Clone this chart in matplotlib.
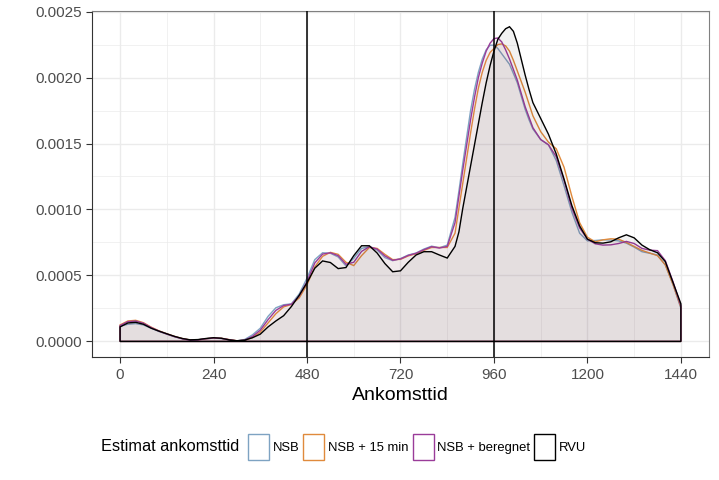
import matplotlib.pyplot as plt
from matplotlib.colors import to_rgba
from matplotlib.patches import Patch
from matplotlib.ticker import MultipleLocator

plt.rcParams['font.family'] = ['Liberation Sans', 'DejaVu Sans']

# Minutes after midnight (common grid, denser around the evening peak)
minutes = list(range(0, 841, 20)) + list(range(860, 1051, 10)) + list(range(1060, 1441, 20))

nsb = [0.000115, 0.000130, 0.000135, 0.000125, 0.000100, 0.000075, 0.000055, 0.000035,
       0.000020, 0.000010, 0.000012, 0.000020, 0.000025, 0.000022, 0.000012, 0.000004,
       0.000015, 0.000050, 0.000100, 0.000190, 0.000255, 0.000278, 0.000285, 0.000360,
       0.000480, 0.000620, 0.000672, 0.000668, 0.000640, 0.000572, 0.000630, 0.000705,
       0.000718, 0.000692, 0.000635, 0.000612, 0.000628, 0.000655, 0.000670, 0.000700,
       0.000722, 0.000710, 0.000730,
       0.00094, 0.00114, 0.00135, 0.00155, 0.00175, 0.00191, 0.00204, 0.00214, 0.00221, 0.002245,
       0.002245, 0.00222, 0.00218, 0.00214, 0.00210, 0.00203, 0.00196, 0.00186, 0.00176, 0.00168,
       0.001610, 0.001530, 0.001490, 0.001370, 0.001180, 0.000980, 0.000820, 0.000762,
       0.000765, 0.000770, 0.000768, 0.000762, 0.000745, 0.000715, 0.000680, 0.000668,
       0.000655, 0.000580, 0.000430, 0.000250]

nsb_15 = [0.000125, 0.000155, 0.000160, 0.000142, 0.000108, 0.000080, 0.000058, 0.000038,
          0.000022, 0.000011, 0.000012, 0.000020, 0.000026, 0.000024, 0.000014, 0.000005,
          0.000008, 0.000030, 0.000070, 0.000140, 0.000210, 0.000262, 0.000280, 0.000330,
          0.000430, 0.000565, 0.000645, 0.000675, 0.000660, 0.000600, 0.000575, 0.000650,
          0.000712, 0.000705, 0.000660, 0.000620, 0.000622, 0.000648, 0.000665, 0.000690,
          0.000712, 0.000712, 0.000712,
          0.00082, 0.00101, 0.00120, 0.00139, 0.00158, 0.00176, 0.00192, 0.00204, 0.00213, 0.00219,
          0.00222, 0.00225, 0.002255, 0.00224, 0.00220, 0.00213, 0.00205, 0.00197, 0.00189, 0.00180,
          0.001710, 0.001590, 0.001510, 0.001460, 0.001320, 0.001100, 0.000900, 0.000790,
          0.000755, 0.000770, 0.000778, 0.000775, 0.000750, 0.000720, 0.000690, 0.000670,
          0.000650, 0.000580, 0.000430, 0.000260]

nsb_beregnet = [0.000120, 0.000150, 0.000155, 0.000138, 0.000105, 0.000078, 0.000056, 0.000036,
                0.000020, 0.000010, 0.000012, 0.000020, 0.000026, 0.000023, 0.000013, 0.000004,
                0.000010, 0.000038, 0.000085, 0.000165, 0.000235, 0.000272, 0.000282, 0.000345,
                0.000455, 0.000595, 0.000662, 0.000672, 0.000650, 0.000585, 0.000600, 0.000682,
                0.000718, 0.000700, 0.000648, 0.000615, 0.000625, 0.000652, 0.000668, 0.000695,
                0.000718, 0.000708, 0.000720,
                0.00090, 0.00110, 0.00130, 0.00149, 0.00168, 0.00185, 0.00200, 0.00211, 0.00220, 0.00226,
                0.002295, 0.00230, 0.00227, 0.00221, 0.00214, 0.00206, 0.00198, 0.00188, 0.00178, 0.00170,
                0.001620, 0.001530, 0.001490, 0.001400, 0.001220, 0.001010, 0.000860, 0.000775,
                0.000740, 0.000730, 0.000732, 0.000742, 0.000758, 0.000742, 0.000705, 0.000692,
                0.000688, 0.000612, 0.000450, 0.000270]

rvu = [0.000110, 0.000140, 0.000145, 0.000130, 0.000100, 0.000078, 0.000058, 0.000038,
       0.000022, 0.000012, 0.000014, 0.000022, 0.000028, 0.000024, 0.000012, 0.000005,
       0.000010, 0.000028, 0.000055, 0.000110, 0.000155, 0.000195, 0.000265, 0.000350,
       0.000445, 0.000555, 0.000610, 0.000598, 0.000552, 0.000560, 0.000650, 0.000725,
       0.000725, 0.000670, 0.000590, 0.000528, 0.000535, 0.000600, 0.000655, 0.000680,
       0.000680, 0.000655, 0.000632,
       0.00072, 0.00083, 0.00101, 0.00117, 0.00133, 0.00149, 0.00165, 0.00181, 0.00196, 0.00209,
       0.00220, 0.00229, 0.002335, 0.00237, 0.002385, 0.00235, 0.00226, 0.00214, 0.00202, 0.00191,
       0.001810, 0.001690, 0.001570, 0.001420, 0.001230, 0.001030, 0.000875, 0.000775,
       0.000748, 0.000745, 0.000755, 0.000785, 0.000808, 0.000785, 0.000730, 0.000695,
       0.000672, 0.000605, 0.000445, 0.000285]

series = {
    'NSB': nsb,
    'NSB + 15 min': nsb_15,
    'NSB + beregnet': nsb_beregnet,
    'RVU': rvu,
}
colors = ['#7ea3c2', '#e08a3c', '#9a3c99', '#000000']
marker_times = [480, 960]

fig = plt.figure(figsize=(7.19, 4.8), dpi=100)
ax = fig.add_axes([0.128, 0.256, 0.858, 0.721])

for (name, values), c in zip(series.items(), colors):
    xs = [minutes[0]] + minutes + [minutes[-1]]
    ys = [0] + values + [0]
    ax.fill(xs, ys, facecolor=to_rgba(c, 0.05), edgecolor=c, linewidth=1.0, zorder=2)

for t in marker_times:
    ax.axvline(t, color='black', linewidth=1.1, zorder=3)

ax.set_xlim(-72, 1512)
ax.set_ylim(-0.000119, 0.002504)
ax.xaxis.set_major_locator(MultipleLocator(240))
ax.xaxis.set_minor_locator(MultipleLocator(120))
ax.yaxis.set_major_locator(MultipleLocator(0.0005))
ax.yaxis.set_minor_locator(MultipleLocator(0.00025))
ax.yaxis.set_major_formatter(plt.FuncFormatter(lambda v, p: f'{v:.4f}'))
ax.grid(which='major', color='#ebebeb', linewidth=1.0, zorder=0)
ax.grid(which='minor', color='#ebebeb', linewidth=0.5, zorder=0)
ax.set_axisbelow(True)
ax.tick_params(which='major', length=4, color='#333333', labelcolor='#4d4d4d', labelsize=11)
ax.tick_params(which='minor', length=0)
for s in ['top', 'right']:
    ax.spines[s].set_color('#808080')
for s in ['left', 'bottom']:
    ax.spines[s].set_color('#333333')
ax.set_xlabel('Ankomsttid', fontsize=14, labelpad=4)

handles = [Patch(facecolor='white', edgecolor=c, linewidth=1.0, label=n)
           for n, c in zip(series.keys(), colors)]
fig.text(0.141, 0.069, 'Estimat ankomsttid', fontsize=11.8, va='center', ha='left')
fig.legend(handles=handles, loc='center left', bbox_to_anchor=(0.345, 0.069), ncol=4,
           frameon=False, fontsize=9.4, handlelength=1.6, handleheight=2.6,
           handletextpad=0.3, columnspacing=0.3, borderpad=0, borderaxespad=0)

fig.savefig('out.png', dpi=100)
